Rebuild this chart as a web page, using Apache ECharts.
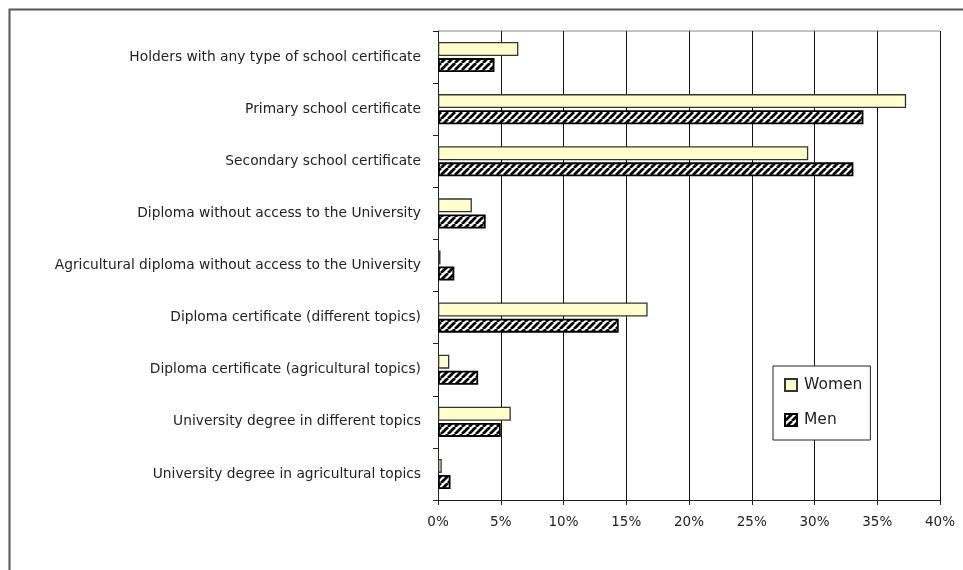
<!DOCTYPE html>
<html><head><meta charset="utf-8">
<script src="https://cdn.jsdelivr.net/npm/echarts@6/dist/echarts.min.js"></script>
<style>html,body{margin:0;padding:0;background:#fff}#c{width:963px;height:570px}</style>
</head><body><div id="c"></div>
<script>
const categories = [
  'Holders with any type of school certificate',
  'Primary school certificate',
  'Secondary school certificate',
  'Diploma without access to the University',
  'Agricultural diploma without access to the University',
  'Diploma certificate (different topics)',
  'Diploma certificate (agricultural topics)',
  'University degree in different topics',
  'University degree in agricultural topics'
];
const women = [6.4, 37.3, 29.5, 2.7, 0.2, 16.7, 0.9, 5.8, 0.3];
const men = [4.5, 33.9, 33.1, 3.8, 1.3, 14.4, 3.2, 5.0, 1.0];
const xTicks = [0, 5, 10, 15, 20, 25, 30, 35, 40];

function hatch() {
  const s = 7;
  const c = document.createElement('canvas');
  c.width = s; c.height = s;
  const g = c.getContext('2d');
  g.fillStyle = '#fff'; g.fillRect(0, 0, s, s);
  g.strokeStyle = '#000'; g.lineWidth = 2.8;
  g.beginPath();
  for (let k = -1; k <= 1; k++) {
    g.moveTo(k * s, s); g.lineTo(k * s + s, 0);
  }
  g.stroke();
  return c;
}

const chart = echarts.init(document.getElementById('c'));
const font = 'DejaVu Sans';
chart.setOption({
  animation: false,
  textStyle: { fontFamily: font },
  graphic: [{
    type: 'rect', left: 7, top: 7, shape: { width: 1000, height: 700 },
    style: { fill: 'none', stroke: '#555', lineWidth: 2 }, silent: true
  }, {
    type: 'line', shape: { x1: 438, y1: 31, x2: 940, y2: 31 },
    style: { stroke: '#888', lineWidth: 1 }, silent: true
  }],
  grid: { left: 438, right: 23, top: 31, bottom: 70 },
  legend: {
    orient: 'vertical', left: 773, top: 366,
    data: [{ name: 'Women', icon: 'rect' }, { name: 'Men', icon: 'rect' }],
    itemWidth: 12, itemHeight: 12, itemGap: 19,
    padding: [11, 8, 12, 11],
    borderColor: '#222', borderWidth: 1, backgroundColor: '#fff',
    textStyle: { fontSize: 15.5, color: '#222', fontFamily: font, padding: [0, 6, 0, 2] }
  },
  xAxis: {
    type: 'value', min: 0, max: 40, interval: 5,
    axisLine: { show: true, lineStyle: { color: '#222' } },
    axisTick: { show: true, length: 5, lineStyle: { color: '#222' } },
    axisLabel: { formatter: '{value}%', color: '#222', fontSize: 13.5, margin: 15 },
    splitLine: { show: true, lineStyle: { color: '#111', width: 1 } }
  },
  yAxis: {
    type: 'category', inverse: true, data: categories,
    axisLine: { lineStyle: { color: '#222' } },
    axisTick: { show: true, length: 5, lineStyle: { color: '#222' } },
    axisLabel: { color: '#222', fontSize: 13.8, margin: 17 }
  },
  series: [{
    name: 'Women', type: 'bar', data: women, barWidth: 14, barGap: '15%',
    itemStyle: { color: '#ffffcc', borderColor: '#333', borderWidth: 1.3 }
  }, {
    name: 'Men', type: 'bar', data: men, barWidth: 14,
    itemStyle: { color: { image: hatch(), repeat: 'repeat' }, borderColor: '#000', borderWidth: 1.8 }
  }]
});
</script></body></html>
